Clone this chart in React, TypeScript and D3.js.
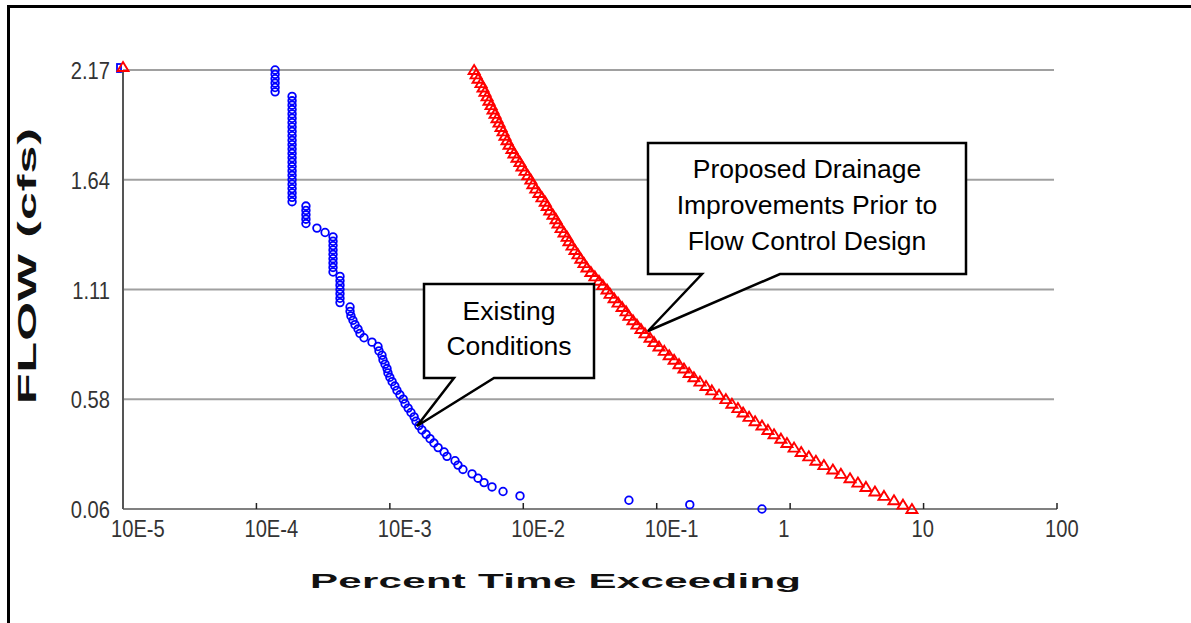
import * as React from 'react';
import * as d3 from 'd3';

// flow levels shared by both series (cfs), lowest to highest
const flowLevels = [
  0.060, 0.081, 0.102, 0.123, 0.144, 0.166, 0.187, 0.208, 0.229, 0.250,
  0.271, 0.292, 0.313, 0.334, 0.355, 0.377, 0.398, 0.419, 0.440, 0.461,
  0.482, 0.503, 0.524, 0.545, 0.566, 0.588, 0.609, 0.630, 0.651, 0.672,
  0.693, 0.714, 0.735, 0.756, 0.777, 0.799, 0.820, 0.841, 0.862, 0.883,
  0.904, 0.925, 0.946, 0.967, 0.988, 1.010, 1.031, 1.052, 1.073, 1.094,
  1.115, 1.136, 1.157, 1.178, 1.199, 1.221, 1.242, 1.263, 1.284, 1.305,
  1.326, 1.347, 1.368, 1.389, 1.410, 1.432, 1.453, 1.474, 1.495, 1.516,
  1.537, 1.558, 1.579, 1.600, 1.621, 1.643, 1.664, 1.685, 1.706, 1.727,
  1.748, 1.769, 1.790, 1.811, 1.832, 1.854, 1.875, 1.896, 1.917, 1.938,
  1.959, 1.980, 2.001, 2.022, 2.043, 2.065, 2.086, 2.107, 2.128, 2.149,
  2.170,
];

// percent time exceeding, existing conditions
const existingPct = [
  0.615, 0.177, 0.0619, 0.00945, 0.00705, 0.00583, 0.00508, 0.00458, 0.00413, 0.00353,
  0.00324, 0.00308, 0.00268, 0.00255, 0.0023, 0.00214, 0.002, 0.00187, 0.00174, 0.00165,
  0.00157, 0.00152, 0.00144, 0.00137, 0.0013, 0.00126, 0.00119, 0.00113, 0.00109, 0.00104,
  0.001, 0.000968, 0.000952, 0.00092, 0.000888, 0.000873, 0.000829, 0.000815, 0.000735, 0.00064,
  0.000597, 0.000577, 0.000548, 0.000529, 0.000511, 0.000503, 0.000503, 0.000423, 0.000423, 0.000423,
  0.000423, 0.000423, 0.000423, 0.000423, 0.000375, 0.000375, 0.000375, 0.000375, 0.000375, 0.000375,
  0.000375, 0.000375, 0.000375, 0.000327, 0.000284, 0.000235, 0.000235, 0.000235, 0.000235, 0.000235,
  0.000185, 0.000185, 0.000185, 0.000185, 0.000185, 0.000185, 0.000185, 0.000185, 0.000185, 0.000185,
  0.000185, 0.000185, 0.000185, 0.000185, 0.000185, 0.000185, 0.000185, 0.000185, 0.000185, 0.000185,
  0.000185, 0.000185, 0.000185, 0.000185, 0.000185, 0.000138, 0.000138, 0.000138, 0.000138, 0.000138,
  0.000138,
];

// percent time exceeding, proposed drainage improvements
const proposedPct = [
  8.18, 7.01, 6.00, 5.05, 4.32, 3.70, 3.22, 2.81, 2.40, 2.09,
  1.79, 1.56, 1.38, 1.21, 1.07, 0.946, 0.853, 0.757, 0.682, 0.615,
  0.546, 0.492, 0.444, 0.406, 0.366, 0.330, 0.293, 0.259, 0.234, 0.211,
  0.190, 0.175, 0.160, 0.147, 0.135, 0.124, 0.114, 0.104, 0.0955, 0.0891,
  0.0817, 0.0762, 0.0711, 0.0664, 0.0619, 0.0589, 0.0550, 0.0513, 0.0479, 0.0447,
  0.0424, 0.0395, 0.0369, 0.0344, 0.0321, 0.0300, 0.0285, 0.0270, 0.0257, 0.0244,
  0.0232, 0.0220, 0.0213, 0.0202, 0.0192, 0.0182, 0.0176, 0.0167, 0.0158, 0.0151,
  0.0146, 0.0138, 0.0131, 0.0124, 0.0118, 0.0114, 0.0108, 0.0103, 0.00977, 0.00944,
  0.00897, 0.00851, 0.00822, 0.00782, 0.00755, 0.00729, 0.00705, 0.00681, 0.00658, 0.00635,
  0.00614, 0.00593, 0.00573, 0.00553, 0.00535, 0.00516, 0.00499, 0.00482, 0.00458, 0.00443,
  0.00428,
];

// stray point drawn at the left edge of the plot
const edgePct = [0.00001];
const edgeFlow = [2.17];

const xTickValues = [1e-5, 1e-4, 1e-3, 1e-2, 1e-1, 1, 10, 100];
const xTickLabels = ['10E-5', '10E-4', '10E-3', '10E-2', '10E-1', '1', '10', '100'];
const yTickValues = [0.06, 0.5875, 1.115, 1.6425, 2.17];
const yTickLabels = ['0.06', '0.58', '1.11', '1.64', '2.17'];

const W = 1191;
const H = 623;
const FONT = "'Liberation Sans', Arial, sans-serif";
const TRI = 'M0,-5L5.5,4L-5.5,4Z';

const x = d3.scaleLog().domain([1e-5, 100]).range([123, 1057]);
const y = d3.scaleLinear().domain([0.06, 2.17]).range([509, 70]);

interface CalloutProps {
  box: [number, number, number, number];
  base: [number, number];
  tip: [number, number];
  lines: string[];
  lineY: number[];
}

class Callout extends React.Component<CalloutProps, {}> {
  render() {
    let { box, base, tip, lines, lineY } = this.props;
    let [l, t, r, b] = box;
    let p = d3.path();
    p.moveTo(l, t);
    p.lineTo(r, t);
    p.lineTo(r, b);
    p.lineTo(base[1], b);
    p.lineTo(tip[0], tip[1]);
    p.lineTo(base[0], b);
    p.lineTo(l, b);
    p.closePath();
    let cx = (l + r) / 2;
    return (
      <g>
        <path d={p.toString()} fill="#fff" stroke="#000" strokeWidth={2.5} strokeLinejoin="miter" />
        {lines.map((s, i) => (
          <text key={i} x={cx} y={lineY[i]} textAnchor="middle" fontFamily={FONT} fontSize={26.5} fill="#000">
            {s}
          </text>
        ))}
      </g>
    );
  }
}

export default class App extends React.Component<{}, {}> {
  render() {
    let [x0, x1] = x.range();
    return (
      <svg width={W} height={H} style={{ position: 'absolute', left: 0, top: 0, background: '#fff' }}>
        <rect x={0} y={0} width={W} height={H} fill="#fff" />
        {/* frame */}
        <line x1={8.5} y1={5} x2={8.5} y2={H} stroke="#000" strokeWidth={3} />
        <line x1={7} y1={6.5} x2={W} y2={6.5} stroke="#000" strokeWidth={3} />

        {/* grid */}
        {yTickValues.slice(1).map((v, i) => (
          <line key={i} x1={x0} x2={1054} y1={y(v)} y2={y(v)} stroke="#a0a0a0" strokeWidth={2} />
        ))}
        <line x1={x0} x2={x1} y1={y(0.06)} y2={y(0.06)} stroke="#808080" strokeWidth={2} />
        <line x1={x0} x2={x0} y1={y(2.17)} y2={y(0.06)} stroke="#555" strokeWidth={2} />
        {xTickValues.slice(1).map((v, i) => (
          <line key={i} x1={x(v)} x2={x(v)} y1={y(0.06) - 6} y2={y(0.06)} stroke="#222" strokeWidth={1.5} />
        ))}

        {/* tick labels */}
        {yTickValues.map((v, i) => (
          <text key={i} transform={`${translate(110, y(v) + 9)} scale(0.84,1)`} textAnchor="end"
                fontFamily={FONT} fontSize={24} fill="#333">{yTickLabels[i]}</text>
        ))}
        {xTickValues.map((v, i) => (
          <text key={i} transform={`${translate(x(v) - 12, 537)} scale(0.84,1)`}
                fontFamily={FONT} fontSize={24} fill="#333">{xTickLabels[i]}</text>
        ))}

        {/* axis titles */}
        <text transform={`${translate(36, 266)} rotate(-90) scale(2,1)`} textAnchor="middle"
              fontFamily={FONT} fontWeight="bold" fontSize={25} fill="#111"
              textLength={138} lengthAdjust="spacing">FLOW (cfs)</text>
        <text transform={`${translate(555.5, 588)} scale(2,1)`} textAnchor="middle"
              fontFamily={FONT} fontWeight="bold" fontSize={21} fill="#111"
              textLength={245.5} lengthAdjust="spacing">Percent Time Exceeding</text>

        {/* existing conditions */}
        <g fill="none" stroke="#0000ff" strokeWidth={1.8}>
          {existingPct.map((p, i) => (
            <circle key={i} cx={x(p)} cy={y(flowLevels[i])} r={3.8} />
          ))}
          {edgePct.map((p, i) => (
            <rect key={i} x={x(p) - 6} y={y(edgeFlow[i]) - 6} width={4} height={8} />
          ))}
        </g>

        {/* proposed */}
        <g fill="none" stroke="#ff0000" strokeWidth={1.9}>
          {proposedPct.map((p, i) => (
            <path key={i} d={TRI} transform={translate(x(p), y(flowLevels[i]))} />
          ))}
          {edgePct.map((p, i) => (
            <path key={i} d={TRI} transform={translate(x(p), y(edgeFlow[i]) - 3)} />
          ))}
        </g>

        <Callout box={[424, 284, 594, 378]} base={[454, 494]} tip={[417, 426]}
                 lines={['Existing', 'Conditions']} lineY={[320, 355]} />
        <Callout box={[648, 143, 966, 274]} base={[702, 780]} tip={[648, 331]}
                 lines={['Proposed Drainage', 'Improvements Prior to', 'Flow Control Design']}
                 lineY={[178, 214, 250]} />
      </svg>
    );
  }
}

function translate(x: number, y: number) {
  return `translate(${x}, ${y})`;
}
